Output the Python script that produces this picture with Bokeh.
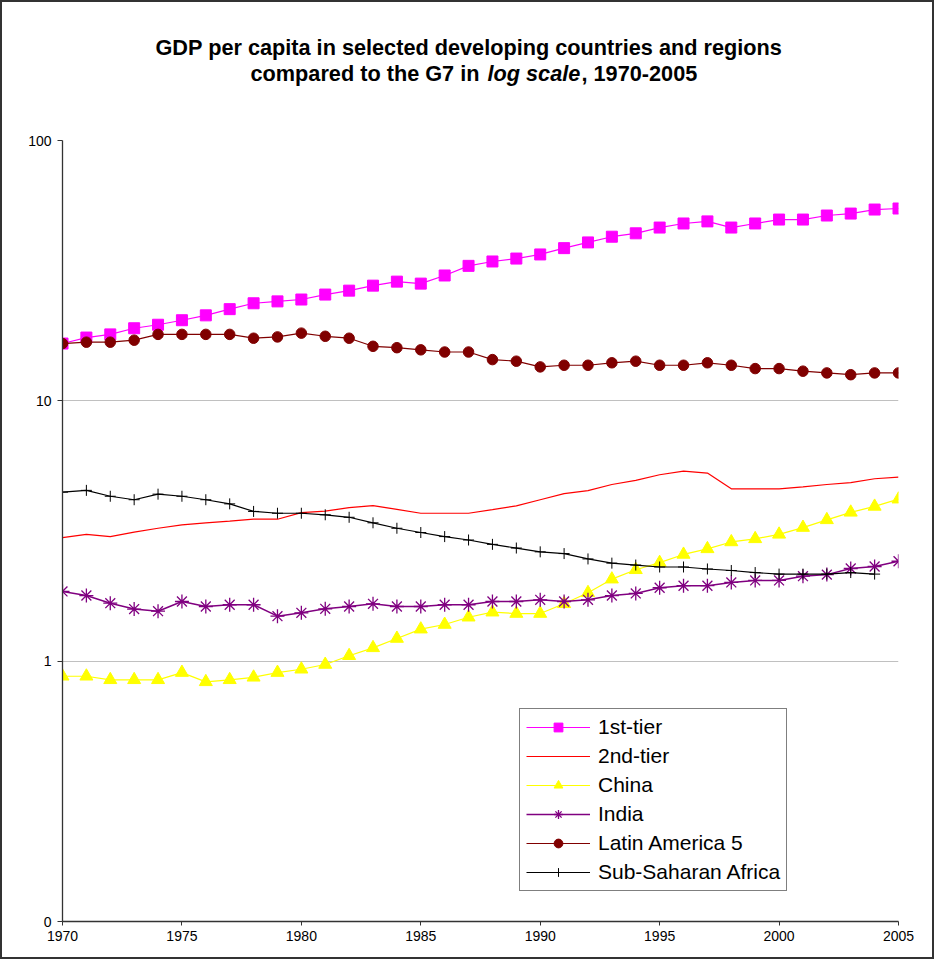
from bokeh.plotting import figure
from bokeh.layouts import column
from bokeh.models import (FixedTicker, Legend, LegendItem,
                          ColumnDataSource, Range1d)
from bokeh.core.properties import value
from bokeh.embed import file_html
from bokeh.resources import INLINE

# ---------------- data ----------------
years = list(range(1970, 2006))
years_ssa = list(range(1970, 2005))

first_tier = [16.6, 17.5, 18.0, 19.0, 19.6, 20.4, 21.3, 22.5, 23.7, 24.1,
              24.5, 25.6, 26.5, 27.7, 28.7, 28.2, 30.3, 33.0, 34.3, 35.2,
              36.5, 38.6, 40.6, 42.7, 44.0, 46.3, 48.0, 48.9, 46.3, 48.0,
              49.7, 49.7, 51.5, 52.4, 54.3, 54.8]
second_tier = [2.98, 3.07, 3.01, 3.13, 3.24, 3.34, 3.40, 3.45, 3.51, 3.51,
               3.72, 3.77, 3.89, 3.96, 3.83, 3.70, 3.70, 3.70, 3.82, 3.95,
               4.17, 4.40, 4.52, 4.77, 4.95, 5.20, 5.37, 5.28, 4.59, 4.59,
               4.59, 4.67, 4.77, 4.85, 5.02, 5.09]
china = [0.875, 0.875, 0.848, 0.848, 0.848, 0.904, 0.833, 0.848, 0.867, 0.904,
         0.931, 0.971, 1.049, 1.125, 1.222, 1.327, 1.383, 1.475, 1.542, 1.524,
         1.524, 1.661, 1.831, 2.065, 2.244, 2.39, 2.57, 2.70, 2.87, 2.95,
         3.07, 3.26, 3.49, 3.73, 3.93, 4.19]
india = [1.853, 1.787, 1.670, 1.585, 1.556, 1.695, 1.622, 1.647, 1.647, 1.489,
         1.534, 1.589, 1.622, 1.661, 1.622, 1.622, 1.647, 1.647, 1.695, 1.695,
         1.72, 1.695, 1.72, 1.787, 1.82, 1.914, 1.949, 1.949, 2.006, 2.042,
         2.042, 2.12, 2.15, 2.27, 2.31, 2.42]
latin_america5 = [16.6, 16.8, 16.8, 17.1, 18.0, 18.0, 18.0, 18.0, 17.4, 17.6,
                  18.2, 17.7, 17.4, 16.2, 16.0, 15.7, 15.4, 15.4, 14.4, 14.2,
                  13.5, 13.7, 13.7, 14.0, 14.2, 13.7, 13.7, 14.0, 13.7, 13.3,
                  13.3, 13.0, 12.8, 12.6, 12.8, 12.8]
ssa = [4.46, 4.53, 4.30, 4.17, 4.38, 4.30, 4.17, 4.02, 3.76, 3.70,
       3.70, 3.65, 3.57, 3.40, 3.24, 3.12, 3.01, 2.92, 2.81, 2.72,
       2.63, 2.59, 2.47, 2.38, 2.34, 2.30, 2.30, 2.26, 2.23, 2.19,
       2.16, 2.16, 2.16, 2.19, 2.16]

x_ticks = [1970, 1975, 1980, 1985, 1990, 1995, 2000, 2005]
y_ticks = [0.1, 1, 10, 100]
y_tick_labels = ["0", "1", "10", "100"]

series_names = ["1st-tier", "2nd-tier", "China", "India",
                "Latin America 5", "Sub-Saharan Africa"]

title_line1 = "GDP per capita in selected developing countries and regions"
title_line2a = "compared to the G7 in"
title_line2b = "log scale"
title_line2c = ", 1970-2005"

FONT = "Liberation Sans"
W, H_TITLE, H_MAIN = 934, 130, 829
FRAME_L, FRAME_R = 62, 898   # plot-frame edges in page pixels

# ---------------- title strip (page-pixel coordinates, y downwards) ----------------
# Bokeh's column aligns the frames of both figures, so the strip's x range
# is expressed in the same page pixels as the main frame edges.
t = figure(width=W, height=H_TITLE, x_range=Range1d(FRAME_L, FRAME_R),
           y_range=Range1d(H_TITLE, 0),
           x_axis_location=None, y_axis_location=None,
           min_border_left=0, min_border_right=0, min_border_top=0, min_border_bottom=0,
           output_backend="svg", toolbar_location=None,
           background_fill_color=None, border_fill_color=None)
t.grid.visible = False
t.outline_line_color = None
tstyle = dict(text_font=value(FONT), text_font_size=value("21.7px"),
              text_color="black", text_baseline="alphabetic", text_align="left")
t.text(x=[155], y=[47], text=[title_line1], text_font_style="bold", **tstyle)
t.text(x=[250], y=[73], text=[title_line2a], text_font_style="bold", **tstyle)
t.text(x=[487], y=[73], text=[title_line2b], text_font_style="bold italic", **tstyle)
t.text(x=[581], y=[73], text=[title_line2c], text_font_style="bold", **tstyle)

# ---------------- main figure ----------------
p = figure(width=W, height=H_MAIN, y_axis_type="log",
           x_range=Range1d(1970, 2005), y_range=Range1d(0.1, 100),
           output_backend="svg", toolbar_location=None,
           min_border_left=FRAME_L, min_border_right=W - FRAME_R,
           min_border_top=10, min_border_bottom=38,
           background_fill_color="white", border_fill_color=None)
p.outline_line_color = None

p.xaxis.ticker = FixedTicker(ticks=x_ticks)
p.yaxis.ticker = FixedTicker(ticks=y_ticks)
p.yaxis.major_label_overrides = dict(zip(y_ticks, y_tick_labels))
for ax in (p.xaxis[0], p.yaxis[0]):
    ax.axis_line_color = "#333333"
    ax.axis_line_width = 1.3
    ax.major_tick_line_color = "#333333"
    ax.major_tick_in = 0
    ax.minor_tick_line_color = None
    ax.major_label_text_font = FONT
    ax.major_label_text_font_size = "14px"
    ax.major_label_text_color = "black"
p.xaxis.major_tick_out = 4
p.xaxis.major_label_standoff = 5
p.yaxis.major_tick_out = 5
p.yaxis.major_label_standoff = 6

p.xgrid.visible = False
p.ygrid.ticker = FixedTicker(ticks=y_ticks)
p.ygrid.grid_line_color = "#c0c0c0"
p.ygrid.grid_line_width = 1

src = ColumnDataSource(dict(year=years, first=first_tier, second=second_tier,
                            china=china, india=india, latam=latin_america5))
src_ssa = ColumnDataSource(dict(year=years_ssa, ssa=ssa))

r1l = p.line("year", "first", source=src, line_color="#FF00FF", line_width=1.2)
r1s = p.scatter("year", "first", source=src, marker="square", size=11,
                fill_color="#FF00FF", line_color="#FF00FF")

r2l = p.line("year", "second", source=src, line_color="#FF0000", line_width=1.2)

r3l = p.line("year", "china", source=src, line_color="#FFFF00", line_width=1.2)
r3s = p.scatter("year", "china", source=src, marker="triangle", size=13,
                fill_color="#FFFF00", line_color="#FFFF00")

r4l = p.line("year", "india", source=src, line_color="#800080", line_width=1.5)
r4s = p.scatter("year", "india", source=src, marker="asterisk", size=14,
                line_color="#800080", line_width=1.3)

r5l = p.line("year", "latam", source=src, line_color="#800000", line_width=1.2)
r5s = p.scatter("year", "latam", source=src, marker="circle", size=10.5,
                fill_color="#800000", line_color="#800000")

r6l = p.line("year", "ssa", source=src_ssa, line_color="#000000", line_width=1.2)
r6s = p.scatter("year", "ssa", source=src_ssa, marker="cross", size=11,
                line_color="#000000", line_width=1)

legend = Legend(items=[
    LegendItem(label=series_names[0], renderers=[r1l, r1s]),
    LegendItem(label=series_names[1], renderers=[r2l]),
    LegendItem(label=series_names[2], renderers=[r3l, r3s]),
    LegendItem(label=series_names[3], renderers=[r4l, r4s]),
    LegendItem(label=series_names[4], renderers=[r5l, r5s]),
    LegendItem(label=series_names[5], renderers=[r6l, r6s]),
], location=(457, 30), margin=0, padding=6, spacing=5,
   glyph_width=64, glyph_height=22, label_height=22, label_standoff=8,
   label_text_font=FONT, label_text_font_size="21px", label_text_color="black",
   border_line_color="black", border_line_width=1,
   background_fill_color="white", background_fill_alpha=1)
p.add_layout(legend)

layout = column(t, p, spacing=0)
layout.styles = {"background-color": "white",
                 "box-shadow": "inset 0 0 0 2px #333333",
                 "outline": "2px solid #333333", "outline-offset": "-2px"}

open("out.html", "w").write(file_html(layout, INLINE))
